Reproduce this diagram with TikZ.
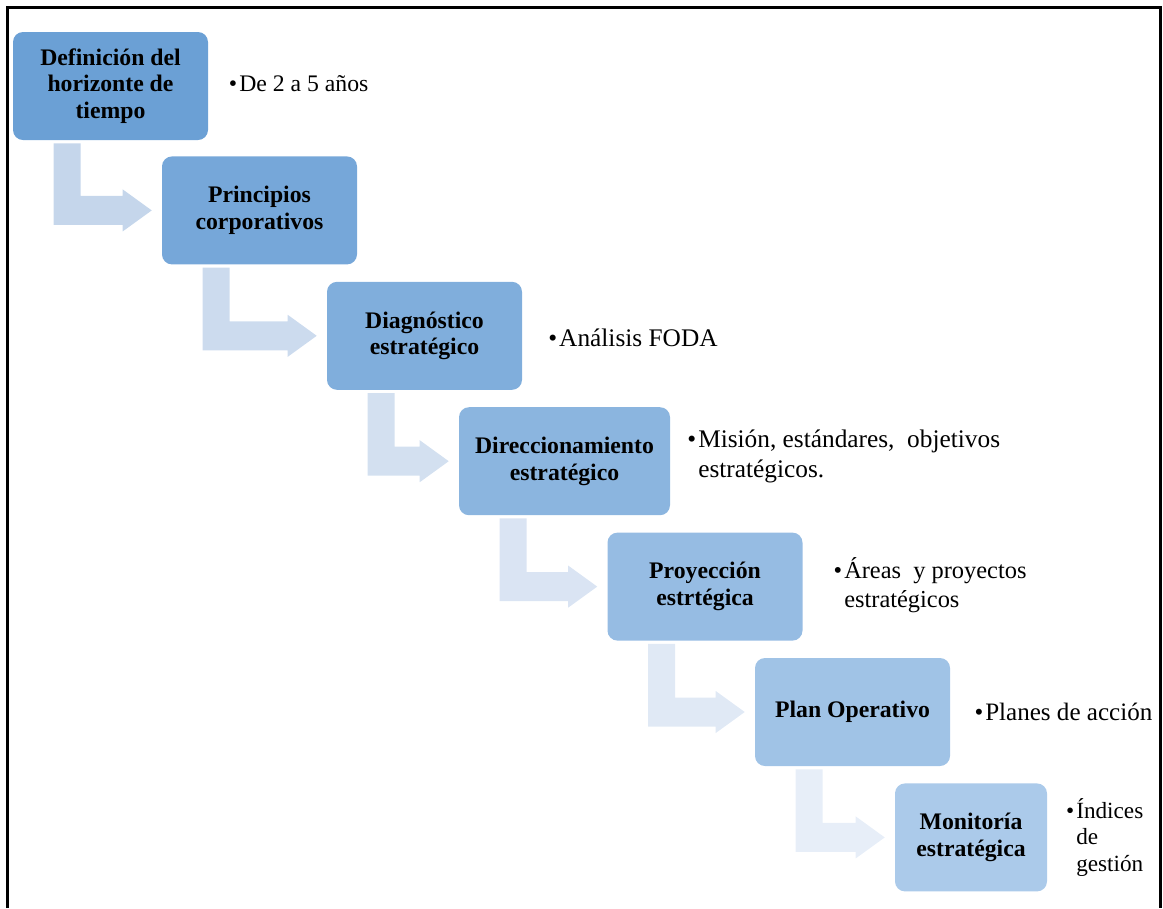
\documentclass[tikz,border=0pt]{standalone}
\usepackage{fontspec}
\setmainfont{Liberation Serif}
\usetikzlibrary{calc}

\definecolor{cajaA}{RGB}{107,160,213}
\definecolor{cajaB}{RGB}{171,202,234}
\definecolor{flechaA}{RGB}{197,214,235}
\definecolor{flechaB}{RGB}{231,238,248}

\tikzset{
	caja/.style={rectangle, rounded corners=7.5pt, align=center, minimum width=146.25pt, minimum height=81pt, inner sep=2pt, font=\bfseries\fontsize{17.8}{20}\selectfont},
	nota/.style={anchor=west, align=left, inner sep=0pt, font=\fontsize{19}{22.5}\selectfont}
}
\newcommand{\punto}{\llap{\textbullet\hspace{1.5pt}}}

\begin{document}
\begin{tikzpicture}[x=0.75pt,y=-0.75pt]
		\useasboundingbox (0,0) rectangle (1163,908);
		%marco
		\draw[line width=2.25pt] (7,908) -- (7,7) -- (1160,7) -- (1160,908);
		
		%cajas
		\node[caja, fill=cajaB!0!cajaA] (b1) at (110.5,86) {Definición del\\horizonte de\\tiempo};
		\node[caja, fill=cajaB!17!cajaA] (b2) at (259.5,210.4) {Principios\\corporativos};
		\node[caja, fill=cajaB!33!cajaA] (b3) at (424.5,335.8) {Diagnóstico\\estratégico};
		\node[caja, fill=cajaB!50!cajaA, minimum width=158.25pt] (b4) at (564.5,461.2) {Direccionamiento\\estratégico};
		\node[caja, fill=cajaB!67!cajaA] (b5) at (705,586.6) {Proyección\\estrtégica};
		\node[caja, fill=cajaB!83!cajaA] (b6) at (852.5,712) {Plan Operativo};
		\node[caja, fill=cajaB!100!cajaA, minimum width=114pt] (b7) at (971,837.4) {Monitoría\\estratégica};
		
		%flechas
		\foreach \i/\j in {1/2,2/3,3/4,4/5,5/6,6/7}{
			\pgfmathtruncatemacro{\p}{(\i-1)*20}
			\coordinate (a\i) at ($(b\i.south west)+(41,3)$);
			\coordinate (t\i) at ($(b\j.west)+(-10,0)$);
			\fill[flechaB!\p!flechaA] (a\i) -- ++(27,0) -- ($(a\i |- t\i)+(27,-14.5)$) -- ($(t\i)+(-29,-14.5)$) -- ($(t\i)+(-29,-21)$) -- (t\i) -- ($(t\i)+(-29,21)$) -- ($(t\i)+(-29,14.5)$) -- ($(a\i |- t\i)+(0,14.5)$) -- cycle;
		}
		
		%notas
		\node[nota, font=\fontsize{17.8}{21}\selectfont] (n1) at (239,84) {\punto De 2 a 5 años};
		\node[nota] (n3) at (559,338) {\punto Análisis FODA};
		\node[nota] (n4) at (698,456) {\punto Misión, estándares,~ objetivos\\estratégicos.};
		\node[nota, font=\fontsize{18.3}{21.75}\selectfont] (n5) at (844,585.5) {\punto Áreas~ y proyectos\\estratégicos};
		\node[nota, font=\fontsize{18.8}{22}\selectfont] (n6) at (985,712) {\punto Planes de acción};
		\node[nota, font=\fontsize{17.4}{20}\selectfont] (n7) at (1076,837.5) {\punto Índices\\de\\gestión};
		
\end{tikzpicture}
\end{document}
